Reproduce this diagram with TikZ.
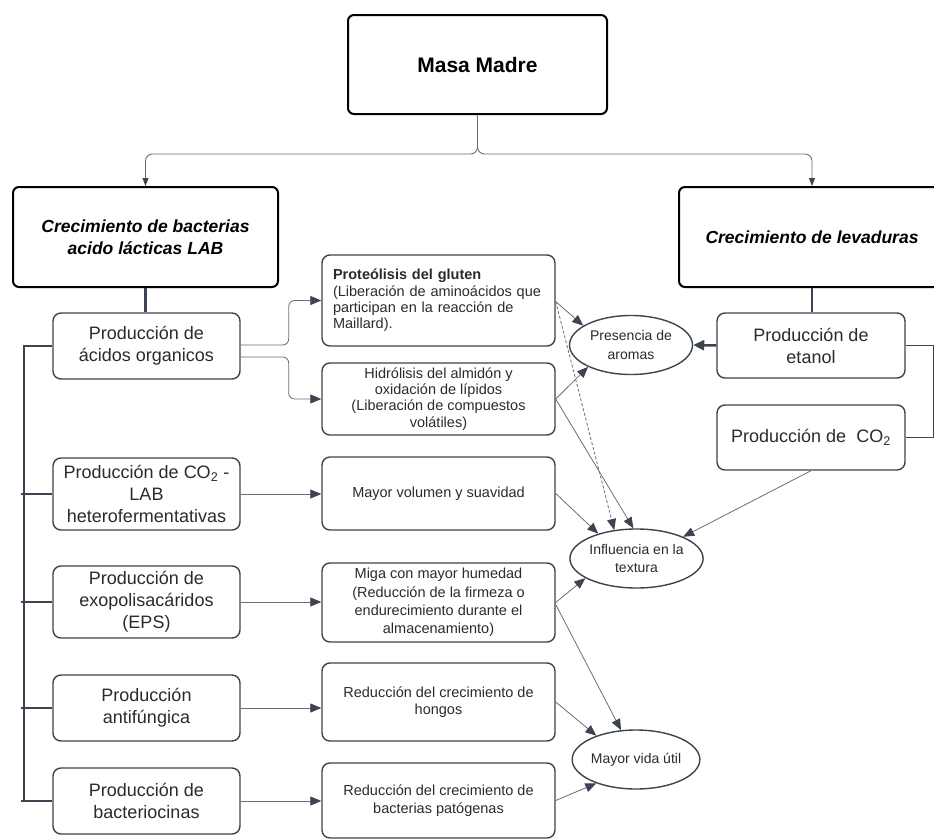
\documentclass[tikz,border=0pt]{standalone}
\usepackage{fontspec}
\setmainfont{Liberation Sans}
\usetikzlibrary{shapes.geometric,arrows.meta}
\definecolor{boxline}{HTML}{3D4350}
\definecolor{wire}{HTML}{6A6E75}
\definecolor{ink}{HTML}{2B2B2B}

\begin{document}
\begin{tikzpicture}[x=1pt, y=-1pt,
	topbox/.style={draw=black, line width=2pt, rounded corners=6pt, minimum height=100pt, align=center, text=black, font=\fontsize{17.5}{22}\selectfont\bfseries\itshape},
	prodbox/.style={draw=boxline, line width=1.4pt, rounded corners=8pt, minimum width=187pt, align=center, text=ink, font=\fontsize{18}{22}\selectfont},
	effbox/.style={draw=boxline, line width=1.4pt, rounded corners=8pt, minimum width=233pt, align=center, text=ink, font=\fontsize{14.5}{17}\selectfont},
	result/.style={ellipse, draw=boxline, line width=1.4pt, minimum width=123pt, minimum height=59pt, inner sep=0pt, align=center, text=ink, font=\fontsize{14}{18.5}\selectfont},
	branch/.style={draw=wire, line width=0.9pt, rounded corners=7pt, -{Triangle[length=8pt,width=6pt,color=boxline]}},
	feed/.style={draw=wire, line width=0.8pt, -{Triangle[length=11pt,width=9pt,color=boxline]}},
	fork/.style={feed, rounded corners=6pt},
	busline/.style={draw=boxline, line width=2.5pt},
	bracket/.style={draw=boxline, line width=1.4pt}]
	\fill[white] (0,0) rectangle (934,838);
	\useasboundingbox (0,0) rectangle (934,838);

	\node[draw=black, line width=2pt, rounded corners=6pt, minimum width=259pt, minimum height=99pt, font=\fontsize{21}{25}\selectfont\bfseries] (masa) at (477.5,64.5) {Masa Madre};
	\node[topbox, minimum width=265pt] (lab) at (145.5,237) {Crecimiento de bacterias\\acido lácticas LAB};
	\node[topbox, minimum width=266pt] (yeast) at (812,237) {Crecimiento de levaduras};

	\node[prodbox, minimum height=66pt] (acidos) at (146.5,346) {Producción de\\ácidos organicos};
	\node[prodbox, minimum height=72pt] (co2lab) at (146.5,494) {Producción de CO\textsubscript{2} -\\LAB\\heterofermentativas};
	\node[prodbox, minimum height=72pt] (eps) at (146.5,602) {Producción de\\exopolisacáridos\\(EPS)};
	\node[prodbox, minimum height=66pt] (antif) at (146.5,708) {Producción\\antifúngica};
	\node[prodbox, minimum height=66pt] (bacteri) at (146.5,801) {Producción de\\bacteriocinas};

	\node[effbox, minimum height=91pt, text width=211pt, inner xsep=11pt, align=left, font=\fontsize{14.5}{16.3}\selectfont] (prote) at (438.5,300.5) {\textbf{Proteólisis del gluten}\\(Liberación de aminoácidos que\\participan en la reacción de\\Maillard).};
	\node[effbox, minimum height=72pt, font=\fontsize{14.5}{16.3}\selectfont] (hidro) at (438.5,399) {Hidrólisis del almidón y\\oxidación de lípidos\\(Liberación de compuestos\\volátiles)};
	\node[effbox, minimum height=73pt] (volumen) at (438.5,493.5) {Mayor volumen y suavidad};
	\node[effbox, minimum height=79pt, font=\fontsize{14.5}{18.3}\selectfont] (miga) at (438.5,602.5) {Miga con mayor humedad\\(Reducción de la firmeza o\\endurecimiento durante el\\almacenamiento)};
	\node[effbox, minimum height=78pt] (hongos) at (438.5,702) {Reducción del crecimiento de\\hongos};
	\node[effbox, minimum height=75pt, font=\fontsize{14.5}{18}\selectfont] (patog) at (438.5,800.5) {Reducción del crecimiento de\\bacterias patógenas};

	\node[prodbox, minimum width=188pt, minimum height=65pt] (etanol) at (811,345.5) {Producción de\\etanol};
	\node[prodbox, minimum width=188pt, minimum height=65pt] (co2y) at (811,437.5) {Producción de\ \ CO\textsubscript{2}};

	\node[result] (aromas) at (631,345) {Presencia de\\aromas};
	\node[result] (textura) at (636.5,558.5) {Influencia en la\\textura};
	\node[result, minimum width=124pt] (vida) at (636,759.5) {Mayor vida útil};

	\draw[branch] (masa.south) -- ++(0,39) -| (lab.north);
	\draw[branch] (masa.south) -- ++(0,39) -| (yeast.north);
	\draw[busline] (lab.south) -- (lab.south |- acidos.north);
	\draw[busline] (yeast.south) -- (yeast.south |- etanol.north);

	\coordinate (busend) at (24,801);
	\draw[busline] (acidos.west) -| (busend) -- (bacteri.west);
	\draw[busline] ([xshift=-3pt]bacteri.west -| busend) -- (busend);
	\foreach \n in {co2lab, eps, antif}
		\draw[busline] (\n.west) -- ([xshift=-3pt]\n.west -| busend);

	\draw[fork] ([yshift=1pt]acidos.east) -- ++(48,0) |- (prote.west);
	\draw[fork] ([yshift=-11pt]acidos.east) -- ++(48,0) |- (hidro.west);
	\foreach \a/\b in {co2lab/volumen, eps/miga, antif/hongos, bacteri/patog}
		\draw[feed] (\a.east) -- (\a.east -| \b.west);

	\draw[busline, -{Triangle[length=11pt,width=10pt]}] (etanol.west) -- (aromas.east);
	\draw[bracket] (etanol.east) -- ++(28,0) |- (co2y.east);

	\draw[feed] ([yshift=-1pt]prote.east) -- (aromas.158);
	\draw[feed] (hidro.east) -- (aromas.207);
	\draw[feed, dash pattern=on 3pt off 2pt] ([yshift=-1pt]prote.east) -- (textura.128);
	\draw[feed] (hidro.east) -- (textura.96);
	\draw[feed] (volumen.east) -- (textura.147);
	\draw[feed] (co2y.south) -- (textura.25);
	\draw[feed] (miga.east) -- (textura.201);
	\draw[feed] ([yshift=-2pt]miga.east) -- (vida.117);
	\draw[feed] (hongos.east) -- (vida.149);
	\draw[feed] (patog.east) -- (vida.211);
\end{tikzpicture}
\end{document}
